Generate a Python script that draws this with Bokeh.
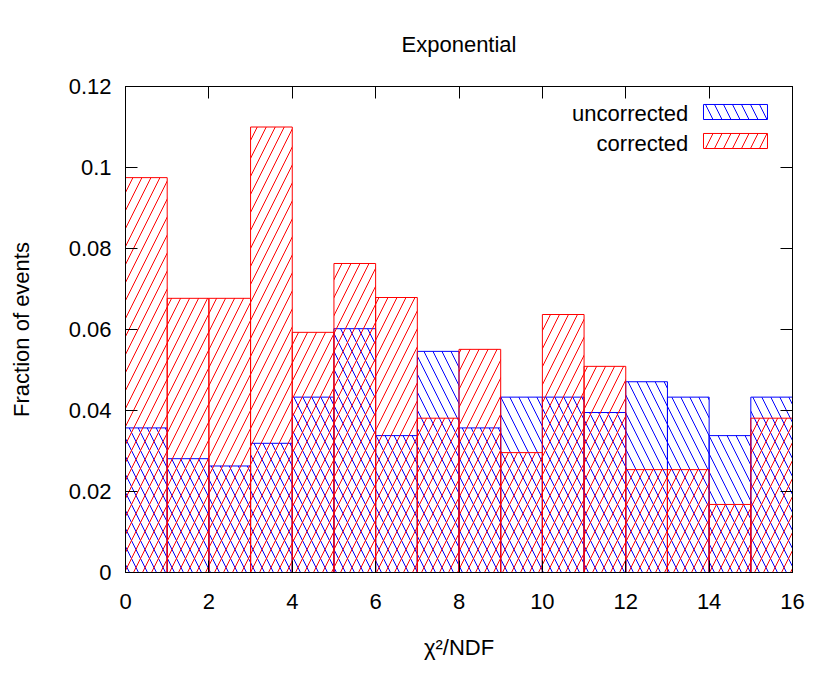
from bokeh.plotting import figure
from bokeh.models import (LinearAxis, FixedTicker, CustomJSTickFormatter, Label,
                          BoxAnnotation, Range1d, ColumnDataSource)
from bokeh.embed import file_html
from bokeh.resources import INLINE

# ---- data ----
bin_left = list(range(16))
bin_right = [b + 1 for b in bin_left]
uncorrected = [0.0357, 0.0281, 0.0263, 0.0319, 0.0433, 0.0602, 0.0338, 0.0546,
               0.0357, 0.0433, 0.0433, 0.0395, 0.0471, 0.0433, 0.0338, 0.0433]
corrected = [0.0975, 0.0677, 0.0677, 0.1100, 0.0593, 0.0763, 0.0679, 0.0381,
             0.0551, 0.0296, 0.0637, 0.0509, 0.0254, 0.0254, 0.0168, 0.0381]
x_ticks = [0, 2, 4, 6, 8, 10, 12, 14, 16]
y_ticks = [0, 0.02, 0.04, 0.06, 0.08, 0.10, 0.12]
series_names = ["uncorrected", "corrected"]
title_text = "Exponential"

FONT = "Liberation Sans"
FS = "22px"
BLUE = "#0000ff"
RED = "#ff0000"
HSCALE = 18

src = ColumnDataSource(dict(left=bin_left, right=bin_right,
                            unc=uncorrected, cor=corrected,
                            bottom=[0] * len(bin_left)))

p = figure(width=822, height=684, output_backend="svg", toolbar_location=None,
           x_range=Range1d(0, 16), y_range=Range1d(0, 0.12),
           min_border_left=125, min_border_right=30,
           min_border_top=86, min_border_bottom=112,
           x_axis_location=None, y_axis_location=None)
p.grid.visible = False
p.outline_line_color = "black"
p.outline_line_width = 1
p.background_fill_color = "white"
p.border_fill_color = "white"

p.quad(left="left", right="right", bottom="bottom", top="unc", source=src,
       fill_alpha=0, line_color=BLUE, line_width=1,
       hatch_pattern="\\", hatch_color=BLUE, hatch_scale=HSCALE, hatch_weight=1)
p.quad(left="left", right="right", bottom="bottom", top="cor", source=src,
       fill_alpha=0, line_color=RED, line_width=1,
       hatch_pattern="/", hatch_color=RED, hatch_scale=HSCALE, hatch_weight=1)

fmt = CustomJSTickFormatter(code="""
var s = tick.toFixed(2);
if (s.indexOf('.') >= 0) { s = s.replace(/0+$/, '').replace(/\\.$/, ''); }
return s;
""")

def style_axis(ax, labels=True):
    ax.major_tick_in = 12
    ax.major_tick_out = 0
    ax.minor_tick_line_color = None
    ax.axis_line_color = "black"
    ax.major_tick_line_color = "black"
    ax.major_label_text_font = FONT
    ax.axis_label_text_font = FONT
    ax.axis_label_text_font_size = FS
    ax.axis_label_text_font_style = "normal"
    ax.axis_label_text_color = "black"
    if labels:
        ax.major_label_text_font_size = FS
        ax.major_label_text_color = "black"
    else:
        ax.major_label_text_font_size = "1px"
        ax.major_label_text_color = None
        ax.major_label_standoff = 0

xb = LinearAxis(ticker=FixedTicker(ticks=x_ticks), formatter=fmt,
                axis_label="χ²/NDF")
style_axis(xb)
xb.major_label_standoff = 21
xb.axis_label_standoff = 23
p.add_layout(xb, "below")

yl = LinearAxis(ticker=FixedTicker(ticks=y_ticks), formatter=fmt,
                axis_label="Fraction of events")
style_axis(yl)
yl.major_label_standoff = 14
yl.axis_label_standoff = 32
p.add_layout(yl, "left")

xt = LinearAxis(ticker=FixedTicker(ticks=x_ticks), formatter=fmt)
style_axis(xt, labels=False)
p.add_layout(xt, "above")

yr = LinearAxis(ticker=FixedTicker(ticks=y_ticks), formatter=fmt)
style_axis(yr, labels=False)
p.add_layout(yr, "right")

p.title.text = title_text
p.title.align = "center"
p.title.text_font = FONT
p.title.text_font_size = FS
p.title.text_font_style = "normal"
p.title.text_color = "black"
p.title.standoff = 59

# ---- key (legend) ----
key_text_x = 13.5
key_box_l, key_box_r = 13.865, 15.40
key_rows = [(0.1133, 0.11185, 0.11556, "\\", BLUE),
            (0.1060, 0.10469, 0.10840, "/", RED)]
for name, (ty, bb, bt, pat, col) in zip(series_names, key_rows):
    p.add_layout(Label(x=key_text_x, y=ty, text=name, text_align="right",
                       text_baseline="middle", text_font=FONT,
                       text_font_size=FS, text_color="black"))
    p.add_layout(BoxAnnotation(left=key_box_l, right=key_box_r, bottom=bb, top=bt,
                               fill_alpha=0, line_color=col, line_width=1,
                               line_alpha=1,
                               hatch_pattern=pat, hatch_color=col,
                               hatch_scale=HSCALE, hatch_weight=1))

open("out.html", "w").write(file_html(p, INLINE))
